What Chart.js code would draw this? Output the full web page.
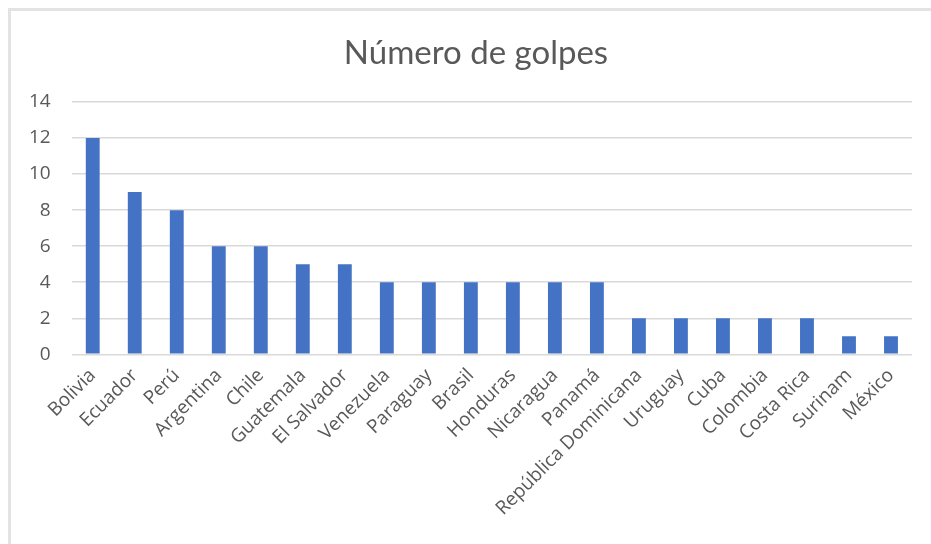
<!DOCTYPE html>
<html>
<head>
<meta charset="utf-8">
<script src="https://cdn.jsdelivr.net/npm/chart.js@4"></script>
<style>
  html, body { margin: 0; padding: 0; background: #fff; overflow: hidden; }
  #frame {
    position: absolute; left: 8px; top: 8px;
    width: 940px; height: 560px;
    border: 3px solid #e3e3e3; box-sizing: border-box;
  }
  #wrap { position: absolute; left: 0; top: 0; width: 931px; height: 544px; }
</style>
</head>
<body>
<div id="frame"></div>
<div id="wrap"><canvas id="golpes-chart"></canvas></div>
<script>
// --- data ---
const countries = ['Bolivia', 'Ecuador', 'Perú', 'Argentina', 'Chile', 'Guatemala', 'El Salvador',
  'Venezuela', 'Paraguay', 'Brasil', 'Honduras', 'Nicaragua', 'Panamá', 'República Dominicana',
  'Uruguay', 'Cuba', 'Colombia', 'Costa Rica', 'Surinam', 'México'];
const coups = [12, 9, 8, 6, 6, 5, 5, 4, 4, 4, 4, 4, 4, 2, 2, 2, 2, 2, 1, 1];
const yTicks = [0, 2, 4, 6, 8, 10, 12, 14];
const chartTitle = 'Número de golpes';

// The original centres its title on the whole (cropped) chart frame, not the canvas,
// so it is drawn here by hand a bit right of centre.
const frameTitle = {
  id: 'frameTitle',
  afterDraw(chart) {
    const c = chart.ctx;
    c.save();
    c.fillStyle = '#595959';
    c.font = 'normal 33px Lato';
    c.textAlign = 'center';
    c.textBaseline = 'middle';
    c.fillText(chartTitle, 476, 53);
    c.restore();
  }
};

const ctx = document.getElementById('golpes-chart');
new Chart(ctx, {
  type: 'bar',
  data: {
    labels: countries,
    datasets: [{
      label: chartTitle,
      data: coups,
      backgroundColor: '#4472c4',
      borderWidth: 0,
      categoryPercentage: 1,
      barPercentage: 0.33
    }]
  },
  plugins: [frameTitle],
  options: {
    responsive: true,
    maintainAspectRatio: false,
    animation: false,
    layout: { padding: { left: 8, right: 19, top: 102, bottom: 22 } },
    plugins: {
      legend: { display: false },
      tooltip: { enabled: false },
      title: { display: false }
    },
    scales: {
      x: {
        grid: { display: false },
        border: { display: false },
        ticks: {
          color: '#595959',
          font: { family: 'Open Sans', size: 19 },
          minRotation: 45,
          maxRotation: 45,
          autoSkip: false,
          padding: 2
        }
      },
      y: {
        min: 0,
        max: 14,
        afterBuildTicks: (axis) => { axis.ticks = yTicks.map(v => ({ value: v })); },
        grid: { color: '#d9d9d9', lineWidth: 1.5, drawTicks: false },
        border: { display: false },
        ticks: {
          color: '#595959',
          font: { family: 'Open Sans', size: 19 },
          padding: 21
        }
      }
    }
  }
});
</script>
</body>
</html>
